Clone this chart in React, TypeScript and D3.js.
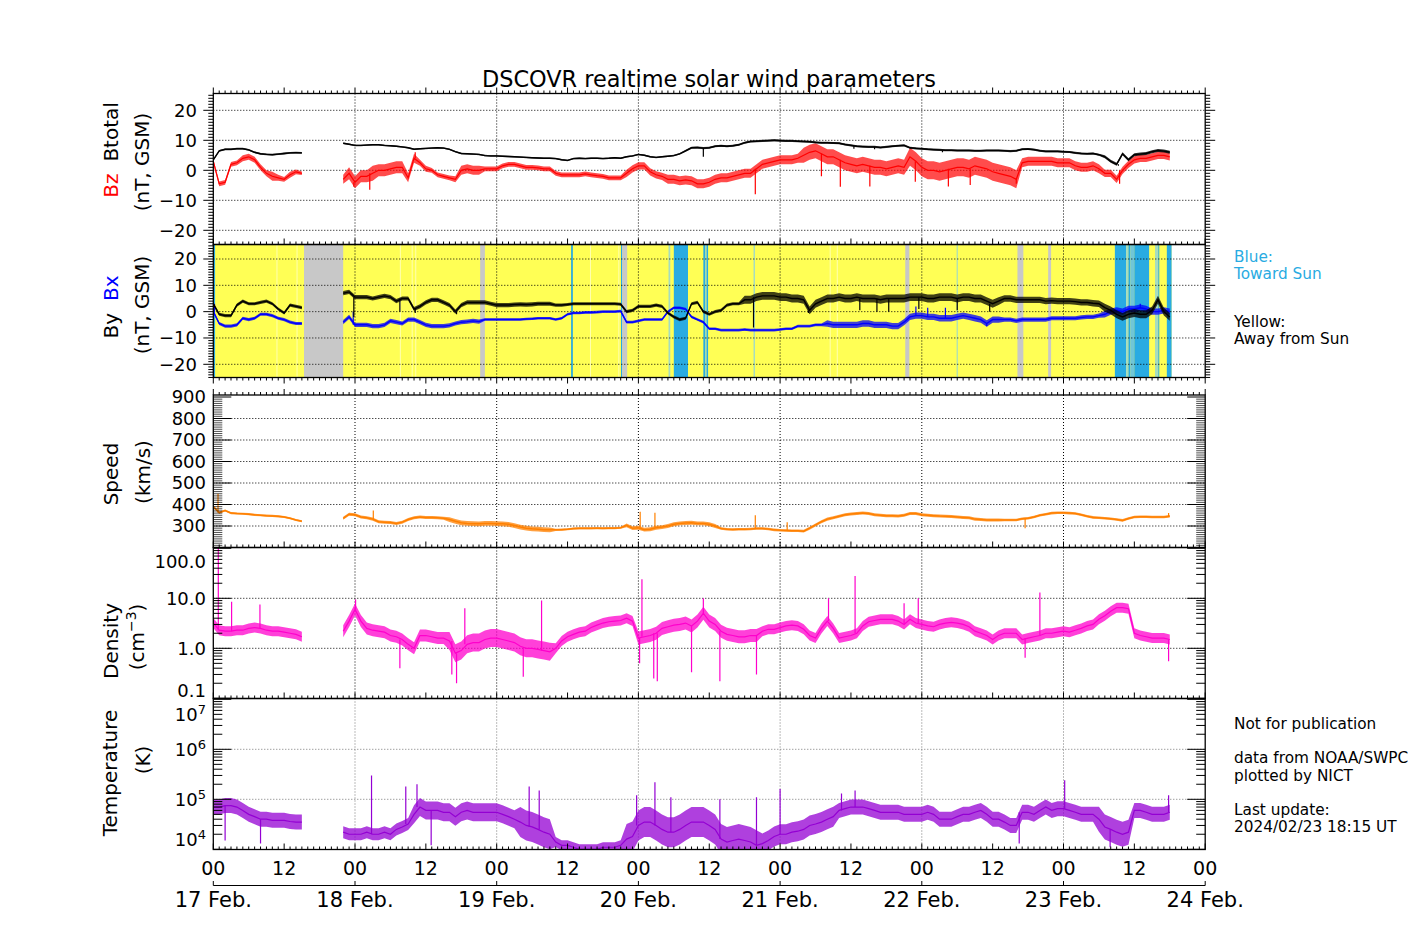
import React, { useEffect, useRef } from 'react';
import * as d3 from 'd3';

// Time axis: hours since 2024-02-17 00:00 UT, hourly samples h = 0 .. 162
const N = null;
const dayLabels = ['17 Feb.', '18 Feb.', '19 Feb.', '20 Feb.', '21 Feb.', '22 Feb.', '23 Feb.', '24 Feb.'];
const hourLabels = ['00', '12'];

const btotal = [
  3.5, 6.5, 7, 7, 7.2, 7.2, 6.8, 6.0, 5.5, 5.3, 5.2, 5.4, 5.6, 5.8, 5.9, 5.8,
  N, N, N, N, N, N,
  9.0, 8.7, 8.3, 8.3, 8.4, 8.5, 8.5, 8.3, 8.2, 8.0, 7.8, 7.5, 7.0, 7.2, 7.3, 7.4, 7.5, 7.4, 7.0, 6.2,
  5.6, 5.5, 5.4, 5.3, 4.9, 4.8, 4.8, 4.7, 4.6, 4.5, 4.4, 4.3, 4.2, 4.1, 4.0, 4.0,
  3.9, 3.5, 3.3, 3.9, 4.0, 3.9, 4.0, 4.0, 3.9, 4.0, 4.2, 4.0, 4.5, 4.8, 5.3, 5.0, 4.5, 4.3, 4.5, 4.7,
  4.9, 5.5, 6.5, 7.5, 7.6, 7.4, 7.5, 8.0, 8.2, 8.0, 8.2, 8.5, 9.2, 9.6, 9.7, 9.8, 9.9, 10, 9.9, 9.8,
  9.8, 9.7, 9.6, 9.5, 9.3, 9.2, 9.2, 9.1, 9.0, 8.6, 8.3, 8.0, 7.9, 7.8, 7.8, 7.6, 7.8, 8.0, 8.2, 8.3,
  7.5, 7.3, 7.2, 7.0, 6.9, 6.8, 6.7, 6.7, 6.6, 6.6, 6.6, 6.5, 6.5, 6.6, 6.6, 6.6,
  6.5, 6.4, 6.5, 7.0, 7.1, 6.9, 6.5, 6.3, 6.3, 6.3, 6.2, 6.1, 5.8, 5.6, 5.5, 5.6, 5.2, 4.5, 3.0, 2.0,
  5.5, 3.5, 5.2, 5.4, 5.6, 6.2, 6.6, 6.4, 6.0,
];
const bz = [
  3, -4.5, -4, 2, 2.5, 4, 4.5, 3.5, 1, -1, -2, -2.5, -3, -1.5, -0.5, -1,
  N, N, N, N, N, N,
  -3, -1, -4, -2, -2, -1, 0, 0, 0.5, 1, 1, -2.5, 4, 2.5, 0.5, 0, -1.5, -2, -2.5, -3,
  0, 0.5, 0, 0, 0.5, 0.5, 0.5, 1.5, 2, 2, 1.5, 1, 1, 0.8, 0.5, 0.5,
  -1, -1.5, -1.5, -1.5, -1.5, -1.2, -1.5, -1.8, -2, -2.5, -2.5, -2.5, -1, 0.5, 1.5, 1.5, -0.5, -1.5, -2, -3,
  -3, -3.5, -3.2, -3.5, -4.5, -4.5, -4, -3, -2.5, -2.5, -2, -1.5, -1, -1, 0.5, 2, 2.5, 3, 3.5, 3.5,
  3.5, 4, 5, 6, 6.5, 5.5, 4.5, 4.5, 3.5, 2.5, 2, 1.5, 2, 1.5, 1, 1, 0.5, 1, 1.5, 1,
  4.5, 3, 1, 0, 0, -0.5, 0, 0.5, 1, 1, 0.5, 1.5, 1, 0.5, -0.5, -1,
  -1.5, -2, -3, 2.5, 3, 3, 3, 3, 3, 2.5, 2.5, 2.5, 1.5, 1, 1, 1.5, 0.5, -1, -1, -3,
  0, 2, 3.5, 4, 4, 4.5, 5, 5, 4.5,
];
const by = [
  3, -1, -1.5, -1.5, 2.5, 4, 3, 3, 3.5, 4, 3, 1, -0.5, 2.5, 2, 1.5,
  N, N, N, N, N, N,
  7, 7.5, 5.5, 5.5, 5.5, 5, 5.5, 6, 5.5, 4, 5, 5, 1, 2, 3.5, 4.5, 4.5, 3.5, 2.5, 0,
  2.5, 3.5, 3.5, 3.5, 3.5, 3, 2.5, 2.5, 2.5, 2.7, 2.8, 2.7, 2.8, 3, 3, 3,
  2.5, 2.5, 2.7, 3, 3, 3, 3, 3, 3, 3, 3, 2.8, 0, 0.5, 2, 2, 2, 2.5, 2, -0.5,
  -2, -3, -2.5, 3, 3.5, 0, -1, 0, 0.5, 2.5, 3, 3, 4.5, 4.5, 5.5, 6, 6, 6, 5.5, 5.5,
  5, 5, 4.5, 0.5, 3, 4, 5, 5, 5.5, 5, 5, 5.5, 5, 5, 5, 4.5, 5, 5, 5, 5,
  5.5, 5.5, 5.5, 5, 5, 5.5, 5.5, 5.5, 5, 5.5, 5.5, 5, 5, 4, 3, 4,
  5, 5, 4.5, 4.5, 4.5, 4.5, 4.5, 4, 4.2, 4, 4, 4, 3.8, 3.5, 3.5, 3.2, 3, 1.5, 0.5, -1,
  -2, -1, -0.5, -1, -1, 0.5, 4.5, 0, -2,
];
const bx = [
  0, -4.5, -5.5, -5.5, -5, -2.5, -3, -2.5, -1, -1, -1.5, -2.5, -3, -4, -4.5, -4.5,
  N, N, N, N, N, N,
  -4, -2, -5, -5, -5, -5.5, -5.5, -5, -3.5, -4, -4.5, -3, -3, -4, -5, -5.5, -5.5, -5.5, -5.2, -4.5,
  -4, -3.8, -3.5, -3.8, -3, -3, -3, -3, -3, -3, -3, -2.8, -2.7, -2.5, -2.5, -2.5,
  -3, -2.5, -1, -0.5, -0.5, -0.3, -0.3, -0.2, 0, 0, 0, 0.2, -4, -4, -3.5, -3, -3, -3, -3, 0,
  1.5, 1.5, 1, -2, -3, -4, -6.5, -6.5, -7, -7, -7, -7, -6.8, -7, -7, -7, -7, -7, -6.8, -6.5,
  -6.5, -5.5, -5.5, -5.5, -5, -5, -4.5, -5, -5, -5, -5, -5, -4.5, -4.5, -5, -5, -5, -5.5, -5.5, -4,
  -2, -1.5, -1.5, -2, -2, -2.5, -2.5, -2.5, -2, -1.5, -2, -2.5, -3, -4.5, -3, -3,
  -3, -3, -3.5, -3, -3, -3, -3, -3, -2.5, -2.5, -2.5, -2.5, -2.5, -2.2, -2, -2, -1.5, -1, 0, 0.5,
  0, 1, 1, 1.5, 1, 0, 0, 0.5, 0,
];
const speed = [
  390, 362, 372, 360, 358, 357, 355, 352, 350, 348, 347, 345, 342, 336, 328, 322,
  N, N, N, N, N, N,
  336, 355, 352, 342, 338, 332, 320, 318, 316, 312, 318, 330, 338, 342, 340, 340, 338, 336, 330, 322,
  315, 312, 311, 310, 312, 312, 311, 310, 308, 302, 295, 290, 287, 285, 283, 282,
  282, 283, 285, 288, 289, 289, 289, 290, 289, 290, 290, 292, 303, 290, 292, 283, 285, 292, 295, 300,
  308, 312, 314, 315, 312, 312, 308, 300, 288, 285, 284, 285, 285, 286, 288, 288, 286, 282, 280, 279,
  278, 278, 276, 290, 305, 320, 332, 338, 345, 352, 356, 358, 360, 358, 352, 350, 348, 348, 346, 350,
  358, 358, 352, 350, 348, 346, 345, 344, 342, 340, 338, 332, 330, 328, 328, 328,
  328, 328, 328, 334, 336, 342, 350, 355, 360, 362, 362, 360, 358, 352, 345, 340, 338, 336, 334, 330,
  326, 335, 342, 343, 343, 342, 342, 342, 345,
];
const density = [
  3.2, 2.3, 2.2, 2.2, 2.3, 2.3, 2.5, 2.6, 2.5, 2.3, 2.2, 2.2, 2.1, 2.0, 1.9, 1.7,
  N, N, N, N, N, N,
  2.2, 3.5, 6, 3.5, 2.5, 2.3, 2.2, 2.1, 1.8, 1.7, 1.5, 1.2, 1.0, 1.8, 1.8, 1.7, 1.6, 1.6, 1.4, 0.8,
  0.9, 1.2, 1.3, 1.3, 1.5, 1.6, 1.6, 1.5, 1.4, 1.3, 1.1, 1.0, 1.0, 0.95, 0.9, 0.85,
  1.0, 1.4, 1.7, 1.9, 2.1, 2.2, 2.6, 2.9, 3.2, 3.4, 3.5, 3.6, 4.0, 3.5, 1.6, 1.7, 1.8, 2.0, 2.5, 2.7,
  2.9, 3.0, 3.2, 2.8, 3.5, 5.0, 3.5, 3.0, 2.2, 1.9, 1.8, 1.7, 1.7, 1.8, 1.8, 2.2, 2.4, 2.4, 2.6, 2.8,
  2.9, 2.8, 2.4, 1.8, 1.6, 2.5, 3.5, 2.5, 1.6, 1.7, 1.8, 2.0, 2.8, 3.4, 3.6, 3.8, 3.8, 3.8, 3.5, 3.0,
  3.8, 3.2, 3.0, 2.8, 2.7, 3.0, 3.2, 3.3, 3.2, 3.0, 2.7, 2.2, 2.0, 1.8, 1.5, 1.8,
  2.0, 2.0, 2.0, 1.5, 1.6, 1.7, 1.8, 2.0, 2.0, 2.1, 2.2, 2.1, 2.3, 2.5, 2.8, 3.0, 3.8, 4.5, 5.5, 6.5,
  6.5, 6.2, 2.0, 1.8, 1.7, 1.6, 1.6, 1.6, 1.5,
];
const temperature = [
  7e4, 7e4, 7.5e4, 7.5e4, 7e4, 6e4, 5e4, 4.5e4, 4e4, 4e4, 3.8e4, 3.8e4, 3.8e4, 3.6e4, 3.5e4, 3.5e4,
  N, N, N, N, N, N,
  2.2e4, 2.0e4, 2.0e4, 2.0e4, 2.2e4, 2.0e4, 2.0e4, 2.2e4, 2.0e4, 2.5e4, 2.8e4, 3.2e4, 5e4, 7e4, 6e4, 6e4, 6e4, 5.5e4, 5.5e4, 4.5e4,
  5.5e4, 6e4, 5.5e4, 5.5e4, 5.5e4, 5.5e4, 5.5e4, 5e4, 4.5e4, 4e4, 3.5e4, 3e4, 2.8e4, 2.5e4, 2.2e4, 2e4,
  1.4e4, 1.2e4, 1.2e4, 1.1e4, 1.0e4, 1.0e4, 1.0e4, 1.0e4, 1.1e4, 1.1e4, 1.1e4, 1.2e4, 1.6e4, 1.8e4, 3e4, 3.5e4, 3.5e4, 3e4, 2.5e4, 2.2e4,
  2.2e4, 2.5e4, 3e4, 3.5e4, 3.5e4, 3.5e4, 3e4, 2.5e4, 1.6e4, 1.4e4, 1.5e4, 1.6e4, 1.5e4, 1.4e4, 1.2e4, 1.3e4, 1.5e4, 1.8e4, 2.0e4, 2.0e4,
  2.2e4, 2.3e4, 2.5e4, 3e4, 3.2e4, 3.5e4, 4e4, 4.5e4, 6e4, 6.5e4, 7e4, 7e4, 7e4, 6.5e4, 6e4, 5.5e4, 5.5e4, 5.5e4, 5.5e4, 5e4,
  5e4, 5e4, 5e4, 5.5e4, 5e4, 4e4, 4e4, 4e4, 4.5e4, 5e4, 5e4, 5.5e4, 6e4, 5e4, 4e4, 4e4,
  3.5e4, 3e4, 3e4, 5.5e4, 5.5e4, 5e4, 6e4, 7e4, 6e4, 6.5e4, 6.5e4, 6e4, 5.5e4, 5e4, 5e4, 5e4, 4e4, 2.8e4, 2.5e4, 2.2e4,
  2e4, 2.2e4, 6e4, 6e4, 5.5e4, 5e4, 5e4, 5e4, 5.5e4,
];

// scatter half-widths, run-length coded [value, hours]
type Run = [number, number];
const btotalSpread: Run[] = [[0.3, 16], [0, 6], [0.25, 58], [0.35, 54], [0.35, 17], [0.5, 12]];
const bzSpread: Run[] = [[0.8, 5], [1, 5], [1.5, 1], [1, 1], [0.8, 1], [1, 1], [0.8, 1], [0.6, 1], [0, 6], [1.5, 1], [2, 4], [2.5, 1], [2, 5], [1.5, 2], [1, 2], [0.8, 4], [1, 1], [1.5, 4], [0.8, 24], [1.2, 7], [1.5, 23], [2.5, 18], [3, 19], [1.5, 14], [1.2, 12]];
const bySpread: Run[] = [[0.6, 16], [0, 6], [0.8, 36], [0.6, 32], [1.5, 44], [1.2, 17], [1.5, 12]];
const bxSpread: Run[] = [[0.6, 16], [0, 6], [0.8, 24], [0.5, 58], [1.2, 30], [0.8, 17], [1.2, 12]];
const speedSpread: Run[] = [[5, 16], [0, 6], [7, 18], [11, 18], [5, 12], [9, 16], [6, 15], [7, 33], [6, 29]];
const densitySpread: Run[] = [[0.1, 16], [0, 6], [0.12, 18], [0.18, 18], [0.1, 14], [0.13, 21], [0.1, 41], [0.1, 29]]; // decades
const temperatureSpread: Run[] = [[0.15, 16], [0, 6], [0.12, 12], [0.18, 18], [0.3, 6], [0.1, 12], [0.3, 23], [0.2, 13], [0.15, 44], [0.25, 6], [0.15, 7]]; // decades

// isolated excursions [hour, value]
const btotalSpikes = [[83, 4.5], [108.5, 7.2], [112, 7.0], [123.5, 6.0], [153.3, 1.5]];
const bzSpikes = [[23.8, -5.5], [26.5, -6.5], [34.2, 6], [91.8, -8], [103, -2], [106.2, -5.5], [111.2, -5.4], [118.9, -3.8], [124.5, -5.4], [128.2, -4.9], [136, -4.5], [153.5, -4.5]];
const bySpikes = [[23.8, -2], [31.6, 0], [34.2, -0.5], [41.2, -1], [91.5, -6], [100.8, -0.5], [109.5, 0.5], [112.4, 0], [114.4, 0], [119.5, 1], [126, 0.5], [131.5, 0]];
const bxSpikes = [[0.2, 3], [23.7, 0], [119, 2], [121, 1.5], [124, 1.5], [131, -5.5], [157, 3]];
const speedSpikes = [[0.8, 450], [27.1, 372], [72.3, 366], [74.8, 362], [91.8, 350], [97.2, 318], [137.5, 290], [161.8, 360]];
const densitySpikes = [[0.85, 110], [3.1, 8.5], [7.9, 7.5], [24.1, 9.5], [31.6, 0.4], [40.4, 0.3], [41.2, 0.2], [42.6, 6.3], [52.5, 0.27], [55.6, 9], [72.2, 0.5], [72.6, 24], [74.6, 0.25], [75.2, 0.22], [81.0, 0.33], [83.0, 10], [85.8, 0.22], [92.0, 0.3], [104.2, 10], [108.7, 28], [117.0, 8], [119.4, 10], [137.5, 0.65], [140.0, 13], [161.8, 0.55]];
const temperatureSpikes = [[2, 1.5e4], [8, 1.3e4], [26.8, 3e5], [32.6, 1.8e5], [34.5, 2e5], [36.9, 1.2e4], [53.5, 1.8e5], [55.2, 1.5e5], [71.7, 1.2e5], [74.8, 2.2e5], [77.5, 1.1e5], [85.8, 1.0e5], [92, 1.1e5], [96, 1.6e5], [106.4, 1.3e5], [108.7, 1.5e5], [136.5, 1.3e4], [144.2, 2.4e5], [151.9, 1.1e4], [161.8, 1.2e5]];

// IMF sector shading [startHour, endHour, kind]
const sectorEnd = 162.3;
const sectors: [number, number, string][] = [
  [0, 0.3, 'B'], [10.7, 10.85, 'L'], [14.1, 14.25, 'L'], [15.36, 22.0, 'G'],
  [31.6, 31.75, 'L'], [33.6, 33.75, 'L'], [34.2, 34.35, 'L'], [45.2, 46.0, 'G'],
  [60.6, 60.9, 'B'], [63.8, 63.95, 'L'], [68.6, 68.75, 'L'], [69.05, 69.25, 'B'], [69.25, 70.1, 'G'],
  [77.1, 77.4, 'P'], [78.0, 80.4, 'B'], [83.0, 83.35, 'B'], [83.35, 83.55, 'P'], [83.55, 83.8, 'B'],
  [91.5, 91.75, 'P'], [104.4, 104.55, 'L'], [105.6, 105.75, 'L'], [117.2, 117.9, 'G'],
  [125.9, 126.1, 'P'], [136.2, 137.2, 'G'], [141.4, 141.9, 'G'],
  [152.7, 154.6, 'B'], [154.6, 155.0, 'P'], [155.0, 155.3, 'B'], [155.3, 156.0, 'M'], [156.0, 158.5, 'B'],
  [159.5, 160.0, 'P'], [160.05, 160.2, 'B'], [161.5, 162.3, 'B'],
];
const sectorColors: Record<string, string> = { B: '#29abe2', G: '#c8c8c8', L: '#ffffb0', P: '#a6dcc0', M: '#70c6d6' };

const X0 = 213.3;
const X1 = 1205.2;
const FONT = 'DejaVu Sans, sans-serif';

const expand = (runs: Run[]) => runs.flatMap(([v, n]) => Array.from({ length: n }, () => v));

export default function App() {
  const ref = useRef<SVGSVGElement | null>(null);

  useEffect(() => {
    const svg = d3.select(ref.current as SVGSVGElement);
    svg.selectAll('*').remove();
    const x = d3.scaleLinear().domain([0, 168]).range([X0, X1]);
    const hours = d3.range(btotal.length);

    const panels: any[] = [
      { id: 'p1', top: 93.5, bottom: 244.5, log: false, y: d3.scaleLinear().domain([-20, 20]).range([230.3, 110.3]) },
      { id: 'p2', top: 244.5, bottom: 377.5, log: false, y: d3.scaleLinear().domain([-20, 20]).range([364.3, 259]) },
      { id: 'p3', top: 395, bottom: 547.5, log: false, y: d3.scaleLinear().domain([300, 900]).range([526, 397]) },
      { id: 'p4', top: 547.5, bottom: 698.5, log: true, y: d3.scaleLog().domain([1, 10]).range([648.3, 598.3]) },
      { id: 'p5', top: 698.5, bottom: 849.5, log: true, y: d3.scaleLog().domain([1e4, 1e5]).range([849.3, 799.3]) },
    ];
    const [p1, p2, p3, p4, p5] = panels;

    const defs = svg.append('defs');
    panels.forEach((p) => {
      defs.append('clipPath').attr('id', 'clip-' + p.id)
        .append('rect').attr('x', X0).attr('y', p.top).attr('width', X1 - X0).attr('height', p.bottom - p.top);
    });

    // sector background
    const bg = svg.append('g').attr('clip-path', 'url(#clip-p2)');
    bg.append('rect').attr('x', x(0)).attr('y', p2.top).attr('width', x(sectorEnd) - x(0)).attr('height', p2.bottom - p2.top).attr('fill', '#ffff55');
    sectors.forEach(([a, b, k]) => {
      bg.append('rect').attr('x', x(a)).attr('y', p2.top).attr('width', Math.max(1, x(b) - x(a))).attr('height', p2.bottom - p2.top).attr('fill', sectorColors[k]);
    });

    // grids
    const grid = svg.append('g').attr('fill', 'none');
    const gridLines: [any, number[], string][] = [
      [p1, [-20, -10, 0, 10, 20], '#000'],
      [p2, [-20, -10, 0, 10, 20], '#000'],
      [p3, [300, 400, 500, 600, 700, 800], '#000'],
      [p4, [1, 10], '#000'],
      [p5, [1e5, 1e6], '#777'],
    ];
    gridLines.forEach(([p, vals, c]) => {
      vals.forEach((v) => {
        grid.append('line').attr('x1', X0).attr('x2', X1).attr('y1', p.y(v)).attr('y2', p.y(v))
          .attr('stroke', c).attr('stroke-width', 1).attr('stroke-dasharray', '1,2');
      });
      for (let d = 1; d <= 6; d++) {
        grid.append('line').attr('x1', x(d * 24)).attr('x2', x(d * 24)).attr('y1', p.top).attr('y2', p.bottom)
          .attr('stroke', c).attr('stroke-width', 1).attr('stroke-dasharray', '1,2');
      }
    });

    const drawSeries = (p: any, vals: (number | null)[], runs: Run[], color: string, bandOp: number, lw: number, spikes: number[][]) => {
      const y = p.y;
      const sp = expand(runs);
      const g = svg.append('g').attr('clip-path', `url(#clip-${p.id})`);
      const lo = (i: number) => (p.log ? (vals[i] as number) / Math.pow(10, sp[i]) : (vals[i] as number) - sp[i]);
      const hi = (i: number) => (p.log ? (vals[i] as number) * Math.pow(10, sp[i]) : (vals[i] as number) + sp[i]);
      const area = d3.area<number>().defined((i) => vals[i] != null).x((i) => x(i)).y0((i) => y(lo(i))).y1((i) => y(hi(i)));
      g.append('path').attr('d', area(hours) as string).attr('fill', color).attr('opacity', bandOp);
      spikes.forEach(([h, v]) => {
        const base = vals[Math.round(h)];
        if (base == null) return;
        g.append('line').attr('x1', x(h)).attr('x2', x(h)).attr('y1', y(base)).attr('y2', y(v))
          .attr('stroke', color).attr('stroke-width', 1.2);
      });
      const line = d3.line<number>().defined((i) => vals[i] != null).x((i) => x(i)).y((i) => y(vals[i] as number));
      g.append('path').attr('d', line(hours) as string).attr('fill', 'none').attr('stroke', color).attr('stroke-width', lw);
    };

    drawSeries(p1, bz, bzSpread, '#ff0000', 0.7, 1.2, bzSpikes);
    drawSeries(p1, btotal, btotalSpread, '#000000', 0.8, 1.4, btotalSpikes);
    drawSeries(p2, bx, bxSpread, '#0000ff', 0.75, 1.4, bxSpikes);
    drawSeries(p2, by, bySpread, '#000000', 0.75, 1.4, bySpikes);
    drawSeries(p3, speed, speedSpread, '#ff8000', 0.75, 1.5, speedSpikes);
    drawSeries(p4, density, densitySpread, '#ff00cc', 0.75, 1.2, densitySpikes);
    drawSeries(p5, temperature, temperatureSpread, '#9400d3', 0.75, 1.2, temperatureSpikes);

    // axes
    const ax = svg.append('g').attr('stroke', '#000').attr('stroke-width', 1);
    const tick = (x1: number, y1: number, x2: number, y2: number, w = 1) =>
      ax.append('line').attr('x1', x1).attr('y1', y1).attr('x2', x2).attr('y2', y2).attr('stroke-width', w);

    const xTicks = (yEdge: number, dir: number) => {
      for (let h = 0; h <= 168; h++) {
        const len = h % 12 === 0 ? 6 : 3;
        tick(x(h), yEdge, x(h), yEdge + dir * len);
      }
    };
    xTicks(p1.top, -1);
    xTicks(p1.bottom, -1);
    xTicks(p2.bottom, 1);
    xTicks(p3.top, -1);
    xTicks(p3.bottom, -1);
    xTicks(p4.bottom, -1);
    xTicks(p5.bottom, -1);

    const yTicksLinear = (p: any, minorStep: number, majorStep: number, out: boolean, minLen: number, majLen: number, w: number) => {
      const vTop = p.y.invert(p.top);
      const vBot = p.y.invert(p.bottom);
      for (let v = Math.ceil(vBot / minorStep) * minorStep; v <= vTop + 1e-9; v += minorStep) {
        const major = Math.abs(v / majorStep - Math.round(v / majorStep)) < 1e-6;
        const len = major ? majLen : minLen;
        const yy = p.y(v);
        const s = out ? -1 : 1;
        tick(X0, yy, X0 + s * len, yy, major ? 1 : w);
        tick(X1, yy, X1 - s * len, yy, major ? 1 : w);
      }
    };
    const yTicksLog = (p: any, minLen: number, majLen: number) => {
      const vTop = p.y.invert(p.top);
      const vBot = p.y.invert(p.bottom);
      for (let d = Math.floor(Math.log10(vBot)); d <= Math.ceil(Math.log10(vTop)); d++) {
        for (let m = 1; m <= 9; m++) {
          const v = m * Math.pow(10, d);
          if (v < vBot * 0.999 || v > vTop * 1.001) continue;
          const len = m === 1 ? majLen : minLen;
          const yy = p.y(v);
          tick(X0, yy, X0 + len, yy);
          tick(X1, yy, X1 - len, yy);
        }
      }
    };
    yTicksLinear(p1, 1, 10, true, 5, 10, 1);
    yTicksLinear(p2, 1, 10, true, 5, 10, 1);
    yTicksLinear(p3, 10, 100, false, 9, 18, 0.7);
    yTicksLog(p4, 9, 18);
    yTicksLog(p5, 9, 18);

    // frames
    panels.forEach((p) => {
      svg.append('rect').attr('x', X0).attr('y', p.top).attr('width', X1 - X0).attr('height', p.bottom - p.top)
        .attr('fill', 'none').attr('stroke', '#000').attr('stroke-width', 1.3);
    });

    const txt = svg.append('g').attr('font-family', FONT).attr('fill', '#000');
    const label = (s: string, xx: number, yy: number, size: number, anchor = 'end') =>
      txt.append('text').attr('x', xx).attr('y', yy).attr('font-size', size).attr('text-anchor', anchor).attr('dy', '0.36em').text(s);

    const minus = '\u2212';
    [20, 10, 0, -10, -20].forEach((v) => {
      const s = v < 0 ? minus + Math.abs(v) : String(v);
      label(s, 197, p1.y(v), 18);
      label(s, 197, p2.y(v), 18);
    });
    [300, 400, 500, 600, 700, 800, 900].forEach((v) => label(String(v), 206, p3.y(v), 18));
    label('100.0', 206, 561.7, 18);
    label('10.0', 206, p4.y(10), 18);
    label('1.0', 206, p4.y(1), 18);
    label('0.1', 206, 690.7, 18);
    const pow = (e: number, yy: number) => {
      const t = txt.append('text').attr('x', 206).attr('y', yy).attr('font-size', 18).attr('text-anchor', 'end').attr('dy', '0.36em');
      t.append('tspan').text('10');
      t.append('tspan').attr('font-size', 13).attr('dy', '-0.55em').text(String(e));
    };
    pow(7, 715);
    pow(6, p5.y(1e6));
    pow(5, p5.y(1e5));
    pow(4, 840);

    // time labels
    for (let h = 0; h <= 168; h += 12) {
      txt.append('text').attr('x', x(h)).attr('y', 875).attr('font-size', 19).attr('text-anchor', 'middle')
        .text(hourLabels[(h / 12) % 2]);
    }
    ax.append('line').attr('x1', X0).attr('x2', X1).attr('y1', 885.5).attr('y2', 885.5);
    dayLabels.forEach((d, i) => {
      tick(x(i * 24), 885.5, x(i * 24), 881);
      txt.append('text').attr('x', x(i * 24)).attr('y', 907).attr('font-size', 21).attr('text-anchor', 'middle').text(d);
    });

    // title
    txt.append('text').attr('x', 709).attr('y', 86.5).attr('font-size', 22.4).attr('text-anchor', 'middle')
      .text('DSCOVR realtime solar wind parameters');

    // axis titles (rotated)
    const rot = (bx: number, cy: number) => txt.append('text').attr('transform', `translate(${bx},${cy}) rotate(-90)`)
      .attr('font-size', 20).attr('text-anchor', 'middle');
    const t1 = rot(118, 150);
    t1.append('tspan').attr('fill', '#ff0000').text('Bz');
    t1.append('tspan').attr('dx', 12).text('Btotal');
    rot(149, 162).text('(nT, GSM)');
    const t2 = rot(118, 307);
    t2.append('tspan').text('By');
    t2.append('tspan').attr('dx', 12).attr('fill', '#0000ff').text('Bx');
    rot(149, 305).text('(nT, GSM)');
    rot(118, 474).text('Speed');
    rot(150, 472).text('(km/s)');
    rot(118, 641).text('Density');
    const t4 = rot(144, 637);
    t4.append('tspan').text('(cm');
    t4.append('tspan').attr('font-size', 14).attr('dy', -8).text(minus + '3');
    t4.append('tspan').attr('dy', 8).text(')');
    rot(117, 773).text('Temperature');
    rot(150, 760).text('(K)');

    // right-hand notes
    const note = (s: string, yy: number, c = '#000') =>
      txt.append('text').attr('x', 1234).attr('y', yy).attr('font-size', 15.3).attr('fill', c).text(s);
    note('Blue:', 261.5, '#29abe2');
    note('Toward Sun', 278.8, '#29abe2');
    note('Yellow:', 326.5);
    note('Away from Sun', 343.8);
    note('Not for publication', 729);
    note('data from NOAA/SWPC', 763.3);
    note('plotted by NICT', 780.6);
    note('Last update:', 815);
    note('2024/02/23 18:15 UT', 832.3);
  }, []);

  return (
    <svg ref={ref} width={1417} height={944} style={{ position: 'absolute', left: 0, top: 0, background: '#fff' }} />
  );
}
